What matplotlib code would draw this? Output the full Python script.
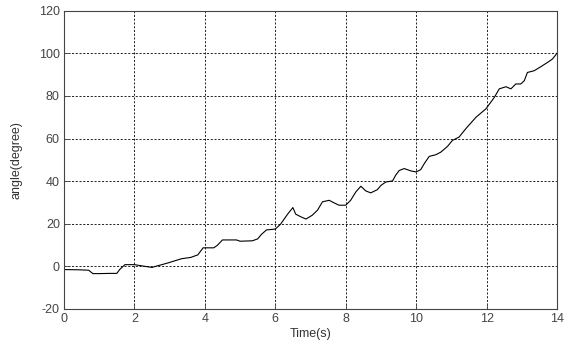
import matplotlib
matplotlib.use("Agg")
from matplotlib import pyplot as plt

# valores
tiempo = [0.0, 0.4, 0.7, 0.82, 1.0, 1.3, 1.5, 1.58, 1.73, 2.0, 2.3, 2.5, 2.6, 2.95,
          3.34, 3.6, 3.8, 3.95, 4.25, 4.35, 4.5, 4.9, 5.0, 5.35, 5.5, 5.6, 5.75, 6.0,
          6.15, 6.35, 6.5, 6.58, 6.72, 6.87, 7.05, 7.2, 7.34, 7.53, 7.67, 7.81, 8.0,
          8.14, 8.29, 8.43, 8.57, 8.71, 8.9, 9.0, 9.14, 9.33, 9.42, 9.52, 9.66, 9.85,
          10.0, 10.13, 10.23, 10.37, 10.56, 10.7, 10.89, 11.03, 11.22, 11.41, 11.7,
          11.98, 12.22, 12.36, 12.55, 12.69, 12.83, 12.97, 13.07, 13.16, 13.35, 13.54,
          13.73, 13.87, 14.0]
angulo = [-1.5, -1.6, -1.8, -3.4, -3.4, -3.3, -3.3, -1.5, 0.8, 0.8, 0.0, -0.5, 0.0, 1.6,
          3.6, 4.2, 5.4, 8.7, 8.7, 9.8, 12.4, 12.4, 11.8, 12.0, 12.9, 14.9, 17.1, 17.5,
          19.8, 24.5, 27.6, 24.5, 23.3, 22.2, 24.0, 26.4, 30.3, 31.0, 29.8, 28.7, 28.7,
          31.0, 35.0, 37.6, 35.4, 34.5, 36.0, 38.0, 39.6, 40.1, 42.8, 45.0, 45.9, 44.8,
          44.3, 45.4, 48.2, 51.6, 52.4, 53.6, 56.3, 59.1, 60.7, 64.6, 70.0,
          73.9, 79.3, 83.3, 84.3, 83.3, 85.6, 85.6, 87.1, 91.0, 91.8, 93.7,
          95.7, 97.3, 100.0]

plt.rcParams['font.family'] = ['Liberation Sans', 'DejaVu Sans']
plt.rcParams['axes.unicode_minus'] = False

fig = plt.figure(figsize=(5.7, 3.44), dpi=100)
ax = fig.add_axes([0.1123, 0.1018, 0.8649, 0.8672])

ax.plot(tiempo, angulo, color='black', linewidth=0.8)

ax.set_xlim(0, 14)
ax.set_ylim(-20, 120)
ax.set_xticks(range(0, 15, 2))
ax.set_yticks(range(-20, 121, 20))
ax.tick_params(direction='in', labelsize=9, colors='#444444', length=4, width=0.6, pad=3)
ax.grid(True, color='black', linestyle=(0, (2.5, 2)), linewidth=0.6)

for s in ax.spines.values():
    s.set_linewidth(0.8)
    s.set_color('#444444')

ax.set_xlabel('Time(s)', fontsize=9, color='#333333', labelpad=2)
ax.set_ylabel('angle(degree)', fontsize=9, color='#333333', labelpad=12)

fig.savefig('out.png', dpi=100)
